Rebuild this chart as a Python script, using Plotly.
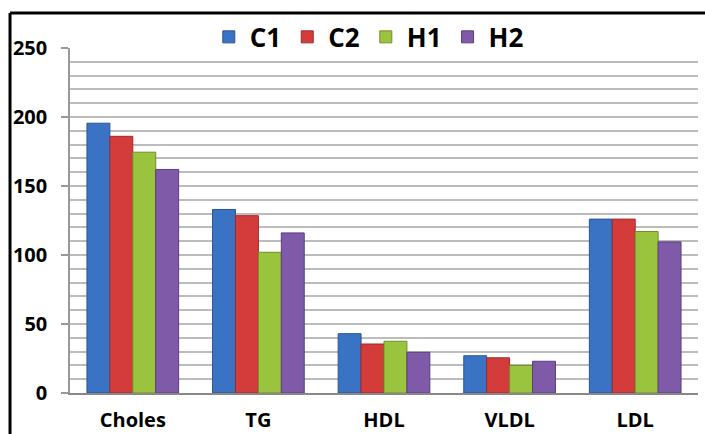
import plotly.graph_objects as go

categories = ["Choles", "TG", "HDL", "VLDL", "LDL"]
series_names = ["C1", "C2", "H1", "H2"]
c1 = [195.5, 133, 43, 27, 126]
c2 = [186, 128.5, 35.5, 25.5, 126]
h1 = [174.5, 102, 37.5, 20, 117]
h2 = [162, 116, 29.5, 23, 109.5]
y_ticks = [0, 50, 100, 150, 200, 250]

colors = ["#3b73c4", "#d43c3c", "#9bc43e", "#7f5aa8"]
edges = ["#2a5590", "#9e2a2a", "#6f8f2a", "#5a3e7c"]

fig = go.Figure()
for name, vals, col, ec in zip(series_names, [c1, c2, h1, h2], colors, edges):
    fig.add_trace(go.Bar(
        name=name, x=categories, y=vals,
        marker=dict(color=col, line=dict(color=ec, width=1)),
    ))

fig.update_layout(
    width=705, height=434,
    margin=dict(l=70, r=7, t=48, b=41, autoexpand=False),
    paper_bgcolor="white", plot_bgcolor="white",
    barmode="group", bargap=0.27, bargroupgap=0,
    font=dict(family="Open Sans", color="black"),
    showlegend=True,
    legend=dict(orientation="h", x=0.475, xanchor="center", y=1.032, yanchor="middle",
                font=dict(size=26, family="Open Sans", weight="bold"),
                itemwidth=32, traceorder="normal", bgcolor="rgba(0,0,0,0)"),
    xaxis=dict(showline=True, linecolor="#888888", linewidth=1.5,
               tickfont=dict(size=20, family="Open Sans", weight="bold"),
               ticks="", showgrid=False, ticklabelstandoff=8),
    yaxis=dict(range=[0, 250], tickvals=y_ticks, showline=True, linecolor="#999999", linewidth=1.5,
               ticks="outside", ticklen=7, tickcolor="#999999", tickwidth=1.5,
               tickfont=dict(size=20, family="Open Sans", weight="bold"),
               ticklabelstandoff=10,
               showgrid=True, gridcolor="#bcbcbc", gridwidth=1.5, zeroline=False,
               minor=dict(dtick=10, showgrid=True, gridcolor="#bcbcbc", gridwidth=1.5, ticks=""),
               ),
    shapes=[
        dict(type="line", xref="paper", yref="paper", x0=-0.0955, x1=1.02, y0=1.1014, y1=1.1014,
             line=dict(color="black", width=3)),
        dict(type="line", xref="paper", yref="paper", x0=-0.0955, x1=-0.0955, y0=1.1014, y1=-0.2,
             line=dict(color="black", width=3)),
    ],
)

fig.write_html("out.html", config={"displayModeBar": False},
               post_script="document.body.style.margin='0';")
